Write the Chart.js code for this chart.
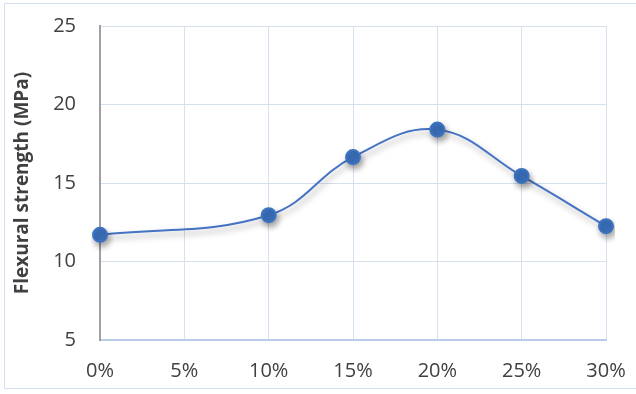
<!DOCTYPE html>
<html>
<head>
<meta charset="utf-8">
<script src="https://cdn.jsdelivr.net/npm/chart.js@4"></script>
<style>
  html, body { margin: 0; padding: 0; background: #fff; }
  #wrap { position: relative; width: 636px; height: 394px; }
  #frame { position: absolute; left: 4px; top: 3px; width: 640px; height: 386px;
           border: 1px solid #d5e0f0; box-sizing: border-box; }
  canvas { position: absolute; left: 0; top: 0; }
</style>
</head>
<body>
<div id="wrap">
  <div id="frame"></div>
  <canvas id="strength_chart" width="636" height="394"></canvas>
</div>
<script>
// tick labels along the bottom (5% has no measurement)
const contents = ["0%", "5%", "10%", "15%", "20%", "25%", "30%"]
// flexural strength, MPa
const strength = [11.7, null, 12.95, 16.65, 18.4, 15.45, 12.25]

const y_min = 5
const y_max = 25
const y_step = 5

// soft grey drop shadow under the line and markers, like the original
const shadow_plugin = {
  id: 'shadow_plugin',
  beforeDatasetDraw(chart) {
    const ctx = chart.ctx
    ctx.save()
    ctx.shadowColor = 'rgba(0, 0, 0, 0.35)'
    ctx.shadowBlur = 6
    ctx.shadowOffsetX = 2
    ctx.shadowOffsetY = 4
  },
  afterDatasetDraw(chart) {
    chart.ctx.restore()
  }
}

Chart.defaults.font.family = "'Open Sans', sans-serif"
Chart.defaults.color = '#404040'

const data_strength = {
  labels: contents,
  datasets: [{
    label: 'Flexural strength',
    data: strength,
    borderColor: '#4472c4',
    borderWidth: 2,
    backgroundColor: '#3c72bf',
    pointBackgroundColor: '#3c72bf',
    pointBorderColor: '#3c72bf',
    pointRadius: 7,
    pointHoverRadius: 7,
    tension: 0.4,
    spanGaps: true
  }]
}

const strength_config = {
  type: 'line',
  data: data_strength,
  options: {
    responsive: false,
    animation: false,
    layout: { padding: { left: 0, right: 30, top: 26, bottom: 0 } },
    plugins: {
      legend: { display: false },
      tooltip: { enabled: false }
    },
    scales: {
      x: {
        grid: { color: '#d5e0f0', lineWidth: 1, drawTicks: false },
        border: { color: '#b8cbe8', width: 2 },
        ticks: { font: { size: 20 }, padding: 19, maxRotation: 0 },
        afterFit(scale) {
          scale.height = 54
          scale.paddingLeft = 0
          scale.paddingRight = 0
        }
      },
      y: {
        min: y_min,
        max: y_max,
        ticks: { stepSize: y_step, font: { size: 20 }, padding: 24 },
        grid: { color: '#d5e0f0', lineWidth: 1, drawTicks: false },
        border: { color: '#a0a0a0', width: 2 },
        title: {
          display: true,
          text: 'Flexural strength (MPa)',
          font: { size: 19, weight: 'bold' },
          color: '#404040',
          padding: { top: 11, bottom: 0 }
        },
        afterFit(scale) {
          scale.width = 100
          scale.paddingTop = 0
          scale.paddingBottom = 0
        }
      }
    }
  },
  plugins: [shadow_plugin]
}

const myStrengthChart = new Chart(
  document.getElementById('strength_chart'),
  strength_config
)
</script>
</body>
</html>
